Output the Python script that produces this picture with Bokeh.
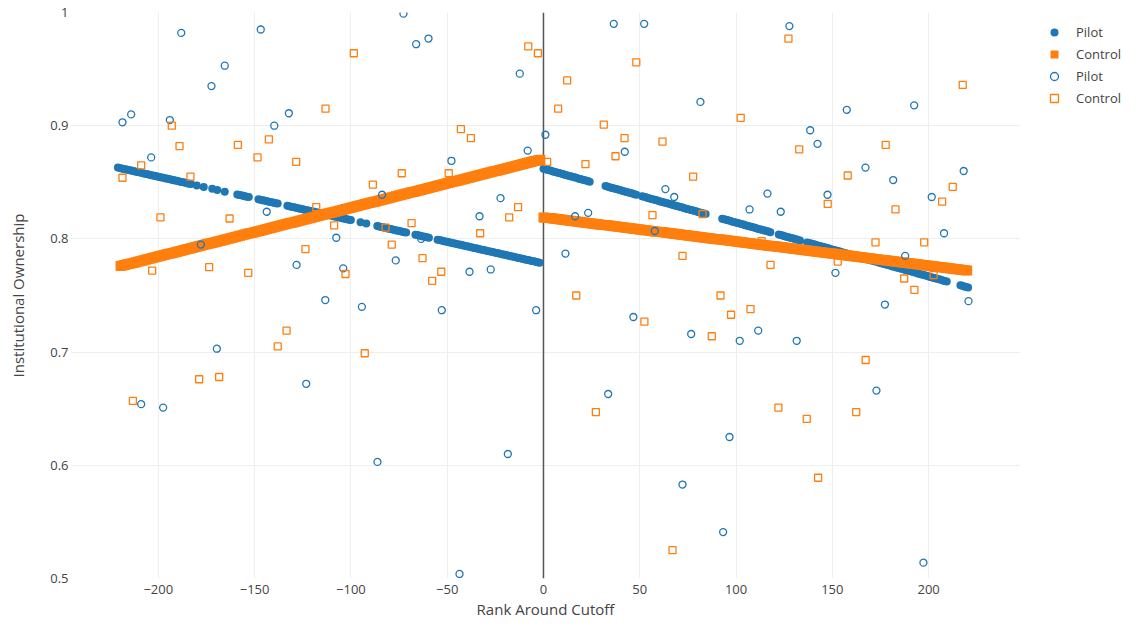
import numpy as np
from bokeh.plotting import figure
from bokeh.layouts import row
from bokeh.models import Range1d, FixedTicker, Span, Legend, LegendItem
from bokeh.embed import file_html
from bokeh.resources import INLINE

# ---- scatter data ----
pilot_x = [-218.6, -214.1, -188.1, -146.8, -165.5, -172.4, -194.0, -132.2, -139.8, -203.7,
           -143.7, -177.9, -128.2, -113.3, -72.7, -66.1, -59.7, -12.3, -8.2, -47.8,
           -22.3, -83.8, -33.2, -107.6, -76.7, -63.5, -38.4, -27.4, -104.0, -94.3,
           -52.8, -3.8, -208.9, -197.5, -169.6, -123.2, -86.2, -18.5, -43.6,
           1.0, 36.5, 52.3, 81.5, 42.2, 63.3, 67.9, 107.0, 116.3, 16.4,
           23.2, 57.8, 11.4, 127.7, 157.5, 192.5, 138.5, 142.3, 167.2, 181.6,
           218.2, 201.6, 147.5, 123.2, 208.0, 187.8, 151.6, 177.3, 220.7, 46.7,
           76.7, 101.9, 111.5, 33.6, 96.6, 72.2, 93.3, 131.5, 172.9, 197.3]
pilot_y = [0.903, 0.910, 0.982, 0.985, 0.953, 0.935, 0.905, 0.911, 0.900, 0.872,
           0.824, 0.795, 0.777, 0.746, 0.999, 0.972, 0.977, 0.946, 0.878, 0.869,
           0.836, 0.839, 0.820, 0.801, 0.781, 0.800, 0.771, 0.773, 0.774, 0.740,
           0.737, 0.737, 0.654, 0.651, 0.703, 0.672, 0.603, 0.610, 0.504,
           0.892, 0.990, 0.990, 0.921, 0.877, 0.844, 0.837, 0.826, 0.840, 0.820,
           0.823, 0.807, 0.787, 0.988, 0.914, 0.918, 0.896, 0.884, 0.863, 0.852,
           0.860, 0.837, 0.839, 0.824, 0.805, 0.785, 0.770, 0.742, 0.745, 0.731,
           0.716, 0.710, 0.719, 0.663, 0.625, 0.583, 0.541, 0.710, 0.666, 0.514]

control_x = [-218.6, -208.9, -193.0, -189.0, -183.3, -198.9, -203.2, -163.0, -158.7, -173.6,
             -153.3, -148.5, -142.6, -128.4, -113.2, -118.0, -123.6, -98.5, -7.9, -2.9,
             -42.9, -37.7, -73.6, -49.2, -88.6, -13.2, -17.8, -32.9, -68.5, -82.0,
             -108.7, -78.8, -62.8, -53.1, -57.8, -102.8, -213.2, -178.8, -168.4, -133.4,
             -138.0, -92.8,
             1.9, 48.2, 12.3, 7.6, 102.4, 31.3, 42.1, 61.8, 37.4, 21.8,
             77.7, 56.6, 82.6, 72.2, 17.0, 91.9, 107.5, 97.4, 52.4, 87.4,
             27.2, 67.0, 127.2, 217.7, 132.8, 177.7, 158.0, 147.6, 182.8, 212.5,
             207.0, 172.4, 197.7, 152.8, 117.9, 202.6, 187.3, 192.6, 113.3, 167.3,
             122.0, 136.7, 162.4, 142.6]
control_y = [0.854, 0.865, 0.900, 0.882, 0.855, 0.819, 0.772, 0.818, 0.883, 0.775,
             0.770, 0.872, 0.888, 0.868, 0.915, 0.828, 0.791, 0.964, 0.970, 0.964,
             0.897, 0.889, 0.858, 0.858, 0.848, 0.828, 0.819, 0.805, 0.814, 0.810,
             0.812, 0.795, 0.783, 0.771, 0.763, 0.769, 0.657, 0.676, 0.678, 0.719,
             0.705, 0.699,
             0.868, 0.956, 0.940, 0.915, 0.907, 0.901, 0.889, 0.886, 0.873, 0.866,
             0.855, 0.821, 0.822, 0.785, 0.750, 0.750, 0.738, 0.733, 0.727, 0.714,
             0.647, 0.525, 0.977, 0.936, 0.879, 0.883, 0.856, 0.831, 0.826, 0.846,
             0.833, 0.797, 0.797, 0.780, 0.777, 0.768, 0.765, 0.755, 0.798, 0.693,
             0.651, 0.641, 0.647, 0.589]

# ---- fitted lines (end points) ----
pilot_fit_left = [(-221.0, 0.863), (-2.0, 0.779)]
pilot_fit_right = [(0.0, 0.862), (220.7, 0.757)]
control_fit_left = [(-219.6, 0.776), (-1.6, 0.870)]
control_fit_right = [(0.0, 0.819), (220.3, 0.772)]
# x-ranges where the Pilot fitted markers appear
pilot_fit_ranges = [(-221, -183), (-180, -180), (-176.4, -176.4), (-172, -172), (-169.4, -169.4),
                    (-165.5, -165.5), (-159, -153), (-148, -138), (-133, -100), (-95, -95),
                    (-92, -92), (-86.3, -70.8), (-66.5, -58.7), (-55, -2),
                    (0, 24.4), (32.2, 48.6), (51.2, 85), (92.8, 117.9), (122.2, 133.4),
                    (136.9, 190.6), (191.4, 209.6), (216.5, 220.7)]
control_fit_ranges = [(-219.6, -1.6), (0, 220.3)]

xticks = [-200, -150, -100, -50, 0, 50, 100, 150, 200]
yticks = [0.5, 0.6, 0.7, 0.8, 0.9, 1.0]
legend_labels = ["Pilot", "Control", "Pilot", "Control"]

BLUE = "#1f77b4"
ORANGE = "#ff7f0e"
FONT = "Open Sans"
TXT = "#444444"


def line_value(seg, x):
    (x0, y0), (x1, y1) = seg
    return y0 + (y1 - y0) * (x - x0) / (x1 - x0)


def fit_points(ranges, left, right, step):
    xs, ys = [], []
    for a, b in ranges:
        pts = np.arange(a, b + 1e-9, step) if b > a else np.array([a])
        for x in pts:
            xs.append(float(x))
            ys.append(line_value(left if x < 0 else right, x))
    return xs, ys


pfx, pfy = fit_points(pilot_fit_ranges, pilot_fit_left, pilot_fit_right, 1.0)
cfx, cfy = fit_points(control_fit_ranges, control_fit_left, control_fit_right, 1.0)

series = [(pfx, pfy), (cfx, cfy), (pilot_x, pilot_y), (control_x, control_y)]
# marker styles shared by plot and legend
styles = [
    dict(marker="circle", size=8, fill_color=BLUE, line_color=BLUE, line_width=0),
    dict(marker="square", size=10, fill_color=ORANGE, line_color=ORANGE, line_width=0),
    dict(marker="circle", size=7, fill_color=None, line_color=BLUE, line_width=1.3),
    dict(marker="square", size=7, fill_color=None, line_color=ORANGE, line_width=1.3),
]

p = figure(output_backend="svg", toolbar_location=None,
           x_range=Range1d(-245.6, 247.7), y_range=Range1d(0.5, 1.0),
           width=1020, height=623,
           min_border_left=70, min_border_top=12, min_border_bottom=45, min_border_right=0)
p.outline_line_color = None
p.background_fill_color = "white"

p.xgrid.grid_line_color = "#eeeeee"
p.ygrid.grid_line_color = "#eeeeee"
p.xgrid.grid_line_width = 1
p.ygrid.grid_line_width = 1

zero = Span(location=0, dimension="height", line_color="#555555", line_width=1.5, level="underlay")
p.add_layout(zero)

for (sx, sy), st in zip(series, styles):
    p.scatter(sx, sy, **st)

for ax in (p.xaxis[0], p.yaxis[0]):
    ax.axis_line_color = None
    ax.major_tick_line_color = None
    ax.minor_tick_line_color = None
    ax.major_tick_out = 0
    ax.major_tick_in = 0
    ax.minor_tick_out = 0
    ax.major_label_text_font = FONT
    ax.major_label_text_font_size = "13px"
    ax.major_label_text_color = TXT
    ax.axis_label_text_font = FONT
    ax.axis_label_text_font_size = "15px"
    ax.axis_label_text_font_style = "normal"
    ax.axis_label_text_color = TXT

p.xaxis.ticker = FixedTicker(ticks=xticks)
p.yaxis.ticker = FixedTicker(ticks=yticks)
p.xaxis.major_label_overrides = {t: (str(t).replace("-", "\u2212")) for t in xticks}
p.yaxis.major_label_overrides = {t: ("1" if t == 1.0 else f"{t:.1f}") for t in yticks}
p.xaxis.axis_label = "Rank Around Cutoff"
p.yaxis.axis_label = "Institutional Ownership"
p.xaxis.major_label_standoff = 6
p.yaxis.major_label_standoff = 2
p.xaxis.axis_label_standoff = 2
p.yaxis.axis_label_standoff = 19

# ---- legend panel (a small companion figure; its view shows no data) ----
lg = figure(output_backend="svg", toolbar_location=None, width=103, height=623,
            x_axis_location=None, y_axis_location=None,
            x_range=Range1d(1000, 1001), y_range=Range1d(1000, 1001),
            min_border=0, min_border_left=0, min_border_right=0,
            min_border_top=0, min_border_bottom=0)
lg.outline_line_color = None
lg.grid.visible = False
items = []
for lab, (sx, sy), st in zip(legend_labels, series, styles):
    r = lg.scatter(sx, sy, **st)
    items.append(LegendItem(label=lab, renderers=[r]))
legend = Legend(items=items, location=(24, 470), padding=0, spacing=2, margin=0,
                glyph_width=20, glyph_height=20, label_height=20, label_standoff=12,
                label_text_font=FONT, label_text_font_size="13px", label_text_color=TXT,
                background_fill_alpha=0, border_line_color=None)
lg.add_layout(legend, "center")

layout = row(p, lg)
open("out.html", "w").write(file_html(layout, INLINE))
